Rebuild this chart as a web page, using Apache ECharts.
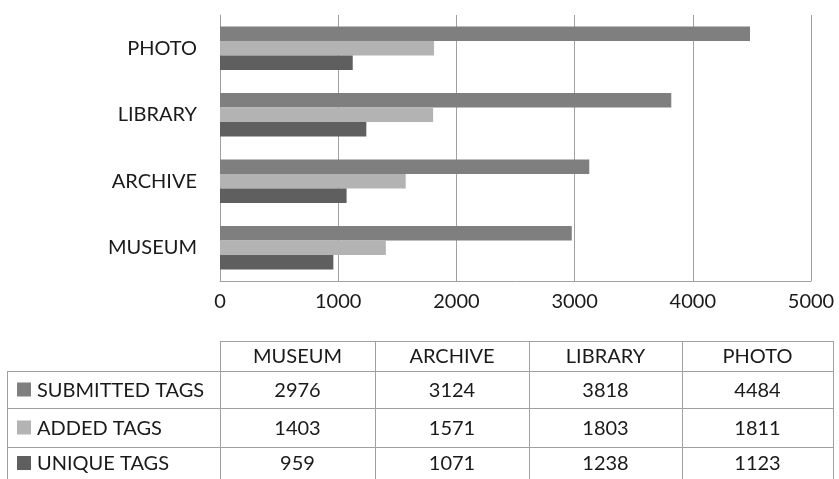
<!DOCTYPE html>
<html>
<head>
<meta charset="utf-8">
<script src="https://cdn.jsdelivr.net/npm/echarts@6/dist/echarts.min.js"></script>
<style>
  html, body { margin: 0; padding: 0; background: #fff; }
  #chart { width: 839px; height: 479px; }
</style>
</head>
<body>
<div id="chart"></div>
<script>
  // data
  let categories = ['MUSEUM', 'ARCHIVE', 'LIBRARY', 'PHOTO']
  let seriesNames = ['SUBMITTED TAGS', 'ADDED TAGS', 'UNIQUE TAGS']
  let submittedTags = [2976, 3124, 3818, 4484]
  let addedTags = [1403, 1571, 1803, 1811]
  let uniqueTags = [959, 1071, 1238, 1123]
  let xMax = 5000
  let xStep = 1000

  let colors = ['#7f7f7f', '#b3b3b3', '#5f5f5f']
  let font = 'Lato, "Noto Sans", sans-serif'
  let textColor = '#1a1a1a'
  let lineColor = '#a0a0a0'

  // table layout
  let colX = [7, 220, 375, 529, 682, 833]
  let rowY = [341, 371, 408, 447, 479]

  function buildTable() {
    let values = [submittedTags, addedTags, uniqueTags]
    let items = []
    let ln = (x1, y1, x2, y2) => items.push({
      type: 'line',
      shape: { x1: x1, y1: y1, x2: x2, y2: y2 },
      style: { stroke: lineColor, lineWidth: 1 },
      silent: true
    })
    // horizontal lines
    ln(colX[1], rowY[0] + 0.5, colX[5], rowY[0] + 0.5)
    for (let r = 1; r < rowY.length - 1; r++) {
      ln(colX[0], rowY[r] + 0.5, colX[5], rowY[r] + 0.5)
    }
    // vertical lines
    ln(colX[0] + 0.5, rowY[1], colX[0] + 0.5, rowY[4])
    for (let c = 1; c < colX.length; c++) {
      ln(colX[c] + 0.5, rowY[0], colX[c] + 0.5, rowY[4])
    }
    // header
    categories.forEach((name, i) => {
      items.push({
        type: 'text',
        style: {
          x: (colX[i + 1] + colX[i + 2]) / 2,
          y: (rowY[0] + rowY[1]) / 2 + 1,
          text: name,
          font: '20px ' + font,
          fill: textColor,
          align: 'center',
          verticalAlign: 'middle'
        }
      })
    })
    // rows
    seriesNames.forEach((name, r) => {
      let cy = (rowY[r + 1] + rowY[r + 2]) / 2
      items.push({
        type: 'rect',
        shape: { x: 17, y: cy - 7, width: 14, height: 14 },
        style: { fill: colors[r] }
      })
      items.push({
        type: 'text',
        style: {
          x: 37, y: cy + 1, text: name,
          font: '20px ' + font, fill: textColor,
          verticalAlign: 'middle'
        }
      })
      values[r].forEach((v, i) => {
        items.push({
          type: 'text',
          style: {
            x: (colX[i + 1] + colX[i + 2]) / 2,
            y: cy + 1,
            text: String(v),
            font: '20px ' + font,
            fill: textColor,
            align: 'center',
            verticalAlign: 'middle'
          }
        })
      })
    })
    return items
  }

  let chart = echarts.init(document.getElementById('chart'))
  chart.setOption({
    animation: false,
    backgroundColor: '#fff',
    grid: {
      left: 220,
      right: 28,
      top: 15,
      bottom: 198,
      containLabel: false
    },
    xAxis: {
      type: 'value',
      min: 0,
      max: xMax,
      interval: xStep,
      axisLine: { show: true, lineStyle: { color: lineColor } },
      axisTick: { show: false },
      splitLine: { show: true, lineStyle: { color: lineColor } },
      axisLabel: {
        margin: 11,
        fontFamily: font,
        fontSize: 20,
        color: textColor,
        formatter: (v) => String(v)
      }
    },
    yAxis: {
      type: 'category',
      data: categories,
      axisLine: { show: true, lineStyle: { color: lineColor } },
      axisTick: { show: false },
      axisLabel: {
        margin: 23,
        fontFamily: font,
        fontSize: 20,
        color: textColor
      }
    },
    series: [
      { name: seriesNames[0], type: 'bar', data: submittedTags, barWidth: 14.5, barGap: '0%', itemStyle: { color: colors[0] } },
      { name: seriesNames[1], type: 'bar', data: addedTags, barWidth: 14.5, barGap: '0%', itemStyle: { color: colors[1] } },
      { name: seriesNames[2], type: 'bar', data: uniqueTags, barWidth: 14.5, barGap: '0%', itemStyle: { color: colors[2] } }
    ],
    graphic: buildTable()
  })
</script>
</body>
</html>
